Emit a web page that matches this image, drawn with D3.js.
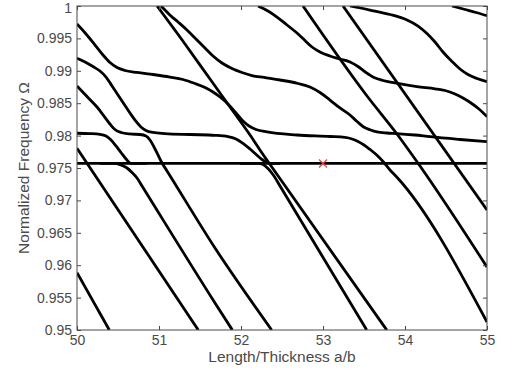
<!DOCTYPE html>
<html>
<head>
<meta charset="utf-8">
<script src="https://cdn.jsdelivr.net/npm/d3@7"></script>
<style>
  body { margin: 0; background: #fff; }
  svg { display: block; }
</style>
</head>
<body>
<script>
const xTicks = [50, 51, 52, 53, 54, 55];
const yTicks = [0.95, 0.955, 0.96, 0.965, 0.97, 0.975, 0.98, 0.985, 0.99, 0.995, 1];
const yTickLabels = ["0.95", "0.955", "0.96", "0.965", "0.97", "0.975", "0.98", "0.985", "0.99", "0.995", "1"];

// branches as [a/b, Omega]
const flatMode = [[50, 0.9757], [55, 0.9757]];
const lineA = [[50, 0.95884], [50.394, 0.95]];
const lineB = [[50, 0.97804], [51.479, 0.95]];
const branch1 = [[50, 0.99722], [50.11, 0.99568], [50.22, 0.99398], [50.317, 0.99244], [50.402, 0.99128], [50.488, 0.99051], [50.585, 0.99005], [50.732, 0.98974], [50.927, 0.98943], [51.134, 0.98904], [51.293, 0.98866], [51.439, 0.98804], [51.561, 0.98742], [51.659, 0.98673], [51.744, 0.98596], [51.841, 0.98488], [51.939, 0.98349], [52.024, 0.98225], [52.098, 0.98148], [52.183, 0.98094], [52.317, 0.98056], [52.683, 0.98009], [53.085, 0.97986], [53.268, 0.97971], [53.354, 0.97948], [53.427, 0.97909], [53.5, 0.97855], [53.573, 0.97786], [53.655, 0.97701], [53.735, 0.97597], [53.817, 0.97469], [53.899, 0.97361], [55, 0.95123]];
const branch2 = [[50, 0.99193], [50.098, 0.99136], [50.195, 0.99066], [50.28, 0.98997], [50.354, 0.98904], [50.427, 0.98765], [50.5, 0.98627], [50.573, 0.98488], [50.646, 0.98349], [50.72, 0.98218], [50.78, 0.98133], [50.841, 0.98079], [50.927, 0.98048], [51.073, 0.98032], [51.378, 0.98017], [51.683, 0.98005], [51.841, 0.97986], [51.939, 0.97948], [52.024, 0.97881], [52.11, 0.97793], [52.191, 0.97701], [52.256, 0.97631], [52.317, 0.97585], [52.378, 0.9757], [52.476, 0.9757]];
const branch3 = [[50, 0.98765], [50.122, 0.98603], [50.244, 0.98441], [50.329, 0.98302], [50.402, 0.98179], [50.463, 0.98094], [50.537, 0.98048], [50.646, 0.98025], [50.768, 0.98017], [50.841, 0.97994], [50.89, 0.97932], [50.939, 0.97824], [50.988, 0.97701], [51.037, 0.97577], [51.098, 0.97454], [51.683, 0.96265], [52.374, 0.95]];
const branch4 = [[50, 0.98036], [50.159, 0.98031], [50.28, 0.9802], [50.354, 0.97994], [50.415, 0.97932], [50.476, 0.9784], [50.537, 0.97739], [50.598, 0.97639], [50.659, 0.9757], [50.732, 0.9757], [50.85, 0.9757]];
const branch5 = [[50.28, 0.9757], [50.463, 0.9757], [50.549, 0.97539], [50.61, 0.975], [50.671, 0.97431], [50.732, 0.97346], [50.793, 0.97222], [51.683, 0.95417], [51.894, 0.95]];
const branch5b = [[51.988, 0.9757], [52.207, 0.9757], [52.268, 0.97554], [52.329, 0.97492], [52.394, 0.97392], [52.476, 0.97222], [53.533, 0.95]];
const lineS = [[50.976, 1.0], [51.317, 0.99414], [51.622, 0.98873], [51.866, 0.98441], [52.11, 0.98009], [52.256, 0.97731], [52.354, 0.97554], [53.777, 0.95]];
const branch6 = [[51.024, 1.0], [51.085, 0.99923], [51.146, 0.99846], [51.232, 0.99753], [51.341, 0.9963], [51.451, 0.99491], [51.561, 0.99352], [51.659, 0.99228], [51.768, 0.9912], [51.89, 0.99035], [52.012, 0.98974], [52.134, 0.98927], [52.28, 0.98897], [52.476, 0.98858], [52.695, 0.98804], [52.841, 0.9875], [52.963, 0.98665], [53.085, 0.98549], [53.207, 0.98426], [53.329, 0.98318], [53.415, 0.98218], [53.491, 0.98137], [53.573, 0.9809], [53.659, 0.98056], [53.78, 0.9804], [53.902, 0.98032], [54.122, 0.98009], [54.305, 0.97983], [54.671, 0.9794], [55, 0.97906]];
const lineH = [[52.756, 1.0], [53.537, 0.98611], [53.902, 0.98025], [54.183, 0.97531], [55, 0.95972]];
const branch8 = [[52.207, 1.0], [52.329, 0.99923], [52.439, 0.9983], [52.561, 0.99707], [52.683, 0.99583], [52.78, 0.99468], [52.866, 0.99367], [52.963, 0.9929], [53.085, 0.99228], [53.207, 0.99182], [53.329, 0.99136], [53.427, 0.99066], [53.524, 0.98974], [53.622, 0.98897], [53.732, 0.9885], [53.878, 0.98812], [54.146, 0.98755], [54.366, 0.98722], [54.488, 0.98696], [54.61, 0.98642], [54.707, 0.9858], [54.805, 0.98503], [54.902, 0.98411], [55, 0.98292]];
const lineI = [[53.244, 1.0], [55, 0.96852]];
const branch9 = [[53.329, 1.0], [53.573, 0.99938], [53.817, 0.99869], [54.024, 0.99784], [54.159, 0.99691], [54.268, 0.99576], [54.366, 0.99444], [54.463, 0.9929], [54.573, 0.99144], [54.671, 0.99028], [54.768, 0.98943], [54.878, 0.98881], [55, 0.98832]];
const branch10 = [[54.573, 1.0], [54.732, 0.99946], [54.866, 0.999], [55, 0.9985]];
const marked = [[53, 0.9757]];

const curves = [flatMode, lineA, lineB, branch1, branch2, branch3, branch4, branch5, branch5b,
  lineS, branch6, lineH, branch8, lineI, branch9, branch10];

const width = 508, height = 376;
const margin = {top: 6, right: 21, bottom: 46, left: 77};
const axisColor = "#4a4a4a";
const font = "'Liberation Sans', Arial, Helvetica, sans-serif";

const x = d3.scaleLinear().domain([50, 55]).range([margin.left, width - margin.right]);
const y = d3.scaleLinear().domain([0.95, 1]).range([height - margin.bottom, margin.top]);

const svg = d3.select("body").append("svg")
    .attr("width", width)
    .attr("height", height)
    .style("font-family", font);

svg.append("clipPath")
    .attr("id", "plot")
  .append("rect")
    .attr("x", x(50))
    .attr("y", y(1))
    .attr("width", x(55) - x(50))
    .attr("height", y(0.95) - y(1));

const line = d3.line()
    .x(d => x(d[0]))
    .y(d => y(d[1]))
    .curve(d3.curveMonotoneX);

svg.append("g")
    .attr("clip-path", "url(#plot)")
  .selectAll("path")
  .data(curves)
  .enter().append("path")
    .attr("fill", "none")
    .attr("stroke", "#000")
    .attr("stroke-width", 2.8)
    .attr("stroke-linejoin", "round")
    .attr("d", line);

// red cross at the marked point
const cross = svg.append("g")
    .attr("stroke", "#e0483f")
    .attr("stroke-width", 1.3);
marked.forEach(d => {
  const cx = x(d[0]), cy = y(d[1]);
  cross.append("line").attr("x1", cx - 4).attr("y1", cy - 4).attr("x2", cx + 4).attr("y2", cy + 4);
  cross.append("line").attr("x1", cx - 4).attr("y1", cy + 4).attr("x2", cx + 4).attr("y2", cy - 4);
});

function styleAxis(g) {
  g.select(".domain").remove();
  g.selectAll("line").attr("stroke", axisColor);
  g.selectAll("text")
      .attr("fill", axisColor)
      .style("font-family", font)
      .style("font-size", "14px");
}

svg.append("g")
    .attr("transform", `translate(0,${y(0.95)})`)
    .call(d3.axisBottom(x).tickValues(xTicks).tickSize(-4).tickPadding(5).tickFormat(d3.format("d")))
    .call(styleAxis);

svg.append("g")
    .attr("transform", `translate(0,${y(1)})`)
    .call(d3.axisTop(x).tickValues(xTicks).tickSize(-4).tickFormat(""))
    .call(styleAxis);

svg.append("g")
    .attr("transform", `translate(${x(50)},0)`)
    .call(d3.axisLeft(y).tickValues(yTicks).tickSize(-4).tickPadding(5).tickFormat((d, i) => yTickLabels[i]))
    .call(styleAxis)
  .selectAll("text")
    .filter(d => d === 1)
    .attr("dy", "0.45em");

svg.append("g")
    .attr("transform", `translate(${x(55)},0)`)
    .call(d3.axisRight(y).tickValues(yTicks).tickSize(-4).tickFormat(""))
    .call(styleAxis);

svg.append("rect")
    .attr("x", x(50))
    .attr("y", y(1))
    .attr("width", x(55) - x(50))
    .attr("height", y(0.95) - y(1))
    .attr("fill", "none")
    .attr("stroke", axisColor)
    .attr("stroke-width", 1);

svg.append("text")
    .attr("x", (x(50) + x(55)) / 2)
    .attr("y", 362)
    .attr("text-anchor", "middle")
    .attr("fill", axisColor)
    .style("font-size", "15.5px")
    .text("Length/Thickness a/b");

svg.append("text")
    .attr("transform", `translate(29,${(y(0.95) + y(1)) / 2}) rotate(-90)`)
    .attr("text-anchor", "middle")
    .attr("fill", axisColor)
    .style("font-size", "15.5px")
    .text("Normalized Frequency Ω");
</script>
</body>
</html>
